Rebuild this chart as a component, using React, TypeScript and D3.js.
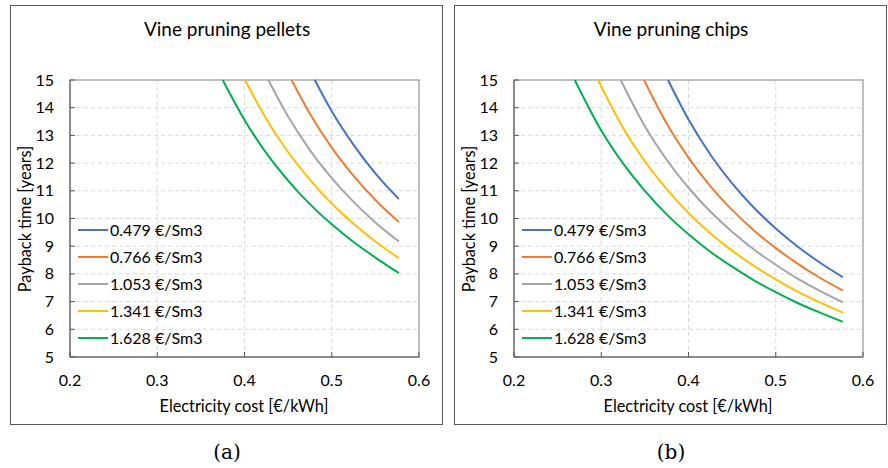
import React from "react";
import * as d3 from "d3";

// ---- data ----
const xTicks = [0.2, 0.3, 0.4, 0.5, 0.6];
const yTicks = [5, 6, 7, 8, 9, 10, 11, 12, 13, 14, 15];
const seriesLabels = ["0.479 €/Sm3", "0.766 €/Sm3", "1.053 €/Sm3", "1.341 €/Sm3", "1.628 €/Sm3"];
const seriesColors = ["#4472C4", "#ED7D31", "#A5A5A5", "#FFC000", "#00B050"];

// Vine pruning pellets: [electricity cost, payback years]
const pellets0479: [number, number][] = [[0.4805, 15], [0.5, 13.87], [0.525, 12.66], [0.55, 11.63], [0.577, 10.7]];
const pellets0766: [number, number][] = [[0.454, 15], [0.475, 13.78], [0.5, 12.56], [0.525, 11.54], [0.55, 10.67], [0.577, 9.87]];
const pellets1053: [number, number][] = [[0.4273, 15], [0.45, 13.68], [0.475, 12.47], [0.5, 11.46], [0.525, 10.6], [0.55, 9.86], [0.577, 9.17]];
const pellets1341: [number, number][] = [[0.4006, 15], [0.425, 13.59], [0.45, 12.4], [0.475, 11.4], [0.5, 10.54], [0.525, 9.81], [0.55, 9.17], [0.577, 8.57]];
const pellets1628: [number, number][] = [[0.375, 15], [0.4, 13.56], [0.425, 12.36], [0.45, 11.37], [0.475, 10.52], [0.5, 9.79], [0.525, 9.15], [0.55, 8.59], [0.577, 8.03]];

// Vine pruning chips
const chips0479: [number, number][] = [[0.3765, 15], [0.4, 13.57], [0.425, 12.31], [0.45, 11.27], [0.475, 10.39], [0.5, 9.64], [0.525, 8.99], [0.55, 8.42], [0.577, 7.88]];
const chips0766: [number, number][] = [[0.349, 15], [0.375, 13.43], [0.4, 12.2], [0.425, 11.17], [0.45, 10.31], [0.475, 9.57], [0.5, 8.93], [0.525, 8.37], [0.55, 7.87], [0.577, 7.4]];
const chips1053: [number, number][] = [[0.3223, 15], [0.35, 13.33], [0.375, 12.12], [0.4, 11.11], [0.425, 10.25], [0.45, 9.52], [0.475, 8.88], [0.5, 8.33], [0.525, 7.83], [0.55, 7.4], [0.577, 6.98]];
const chips1341: [number, number][] = [[0.2963, 15], [0.325, 13.27], [0.35, 12.06], [0.375, 11.06], [0.4, 10.2], [0.425, 9.47], [0.45, 8.84], [0.475, 8.29], [0.5, 7.8], [0.525, 7.36], [0.55, 6.98], [0.577, 6.6]];
const chips1628: [number, number][] = [[0.2696, 15], [0.3, 13.18], [0.325, 11.99], [0.35, 11.0], [0.375, 10.15], [0.4, 9.43], [0.425, 8.8], [0.45, 8.26], [0.475, 7.77], [0.5, 7.34], [0.525, 6.95], [0.55, 6.61], [0.577, 6.27]];

const pelletsSeries = [pellets0479, pellets0766, pellets1053, pellets1341, pellets1628];
const chipsSeries = [chips0479, chips0766, chips1053, chips1341, chips1628];

const FONT = "Lato, 'Open Sans', sans-serif";

function Panel({ ox, title, caption, series }: { ox: number; title: string; caption: string; series: [number, number][][] }) {
  const x = d3.scaleLinear().domain([0.2, 0.6]).range([ox + 70, ox + 419]);
  const y = d3.scaleLinear().domain([5, 15]).range([357, 80]);
  const line = d3
    .line<[number, number]>()
    .x((d) => x(d[0]))
    .y((d) => y(d[1]))
    .curve(d3.curveMonotoneX);
  const [x0, x1] = x.range();
  const [y0, y1] = y.range();
  return (
    <g>
      <rect x={ox + 10.5} y={5.5} width={432} height={419} fill="#fff" stroke="#595959" strokeWidth={1} />
      <text x={ox + 227} y={36} textAnchor="middle" fontFamily={FONT} fontSize={19} fill="#000">
        {title}
      </text>
      {/* grid */}
      {yTicks.slice(1, -1).map((t) => (
        <line key={"gy" + t} x1={x0} x2={x1} y1={y(t)} y2={y(t)} stroke="#D9D9D9" strokeDasharray="4,3" />
      ))}
      {xTicks.slice(1, -1).map((t) => (
        <line key={"gx" + t} x1={x(t)} x2={x(t)} y1={y0} y2={y1} stroke="#D9D9D9" strokeDasharray="4,3" />
      ))}
      {/* frame */}
      <rect x={x0} y={y1} width={x1 - x0} height={y0 - y1} fill="none" stroke="#7F7F7F" strokeWidth={1} />
      <line x1={x0} x2={x0} y1={y1} y2={y0} stroke="#595959" />
      <line x1={x0} x2={x1} y1={y0} y2={y0} stroke="#595959" />
      {yTicks.map((t) => (
        <line key={"ty" + t} x1={x0} x2={x0 + 5} y1={y(t)} y2={y(t)} stroke="#595959" />
      ))}
      {xTicks.map((t) => (
        <line key={"tx" + t} x1={x(t)} x2={x(t)} y1={y0} y2={y0 - 5} stroke="#595959" />
      ))}
      {/* tick labels */}
      {yTicks.map((t) => (
        <text key={"ly" + t} x={ox + 54} y={y(t) + 5.5} textAnchor="end" fontFamily={FONT} fontSize={16} fill="#000">
          {t}
        </text>
      ))}
      {xTicks.map((t) => (
        <text key={"lx" + t} x={x(t)} y={386} textAnchor="middle" fontFamily={FONT} fontSize={16} fill="#000">
          {t.toFixed(1)}
        </text>
      ))}
      <text x={ox + 244} y={412} textAnchor="middle" fontFamily={FONT} fontSize={16.3} fill="#000">
        Electricity cost [€/kWh]
      </text>
      <text
        transform={`translate(${ox + 31},${219}) rotate(-90)`}
        textAnchor="middle"
        fontFamily={FONT}
        fontSize={16.3}
        fill="#000"
      >
        Payback time [years]
      </text>
      {/* series */}
      {series.map((s, i) => (
        <path key={"s" + i} d={line(s) || ""} fill="none" stroke={seriesColors[i]} strokeWidth={2} />
      ))}
      {/* legend */}
      {seriesLabels.map((lab, i) => (
        <g key={"lg" + i}>
          <line x1={ox + 78} x2={ox + 108} y1={230 + i * 27} y2={230 + i * 27} stroke={seriesColors[i]} strokeWidth={2} />
          <text x={ox + 110} y={235.5 + i * 27} fontFamily={FONT} fontSize={16} fill="#000">
            {lab}
          </text>
        </g>
      ))}
      <text x={ox + 227} y={459} textAnchor="middle" fontFamily="'DejaVu Serif', 'Liberation Serif', serif" fontSize={20} fill="#000">
        {caption}
      </text>
    </g>
  );
}

export default function App() {
  return (
    <svg width={888} height={468} style={{ position: "absolute", left: 0, top: 0, background: "#fff" }}>
      <rect width={888} height={468} fill="#fff" />
      <Panel ox={0} title="Vine pruning pellets" caption="(a)" series={pelletsSeries} />
      <Panel ox={444} title="Vine pruning chips" caption="(b)" series={chipsSeries} />
    </svg>
  );
}
